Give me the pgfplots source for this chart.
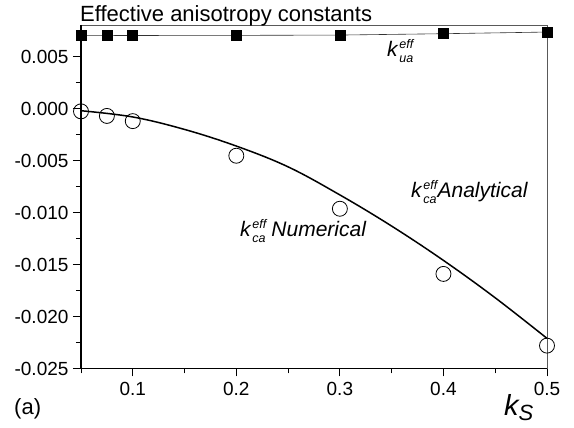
\documentclass[border=0pt]{standalone}
\usepackage{fontspec}
\setmainfont{Liberation Sans}
\usepackage{pgfplots}
\pgfplotsset{compat=1.18}
\newcommand\keff[1]{\textit{k}\kern0.8pt\rlap{\raisebox{8pt}{\fontsize{12.5}{13}\selectfont\itshape eff}}\raisebox{-5.5pt}{\fontsize{12.5}{13}\selectfont\itshape #1}}
\begin{document}
\begin{tikzpicture}[x=1pt,y=1pt]
\useasboundingbox (0,0) rectangle (574,428);
\begin{axis}[
  at={(81pt,59.5pt)}, anchor=south west,
  scale only axis, width=466pt, height=343pt,
  xmin=0.05, xmax=0.5, ymin=-0.025, ymax=0.008,
  scaled ticks=false,
  xtick={0.1,0.2,0.3,0.4,0.5}, xticklabels={0.1,0.2,0.3,0.4,0.5},
  minor xtick={0.05,0.15,0.25,0.35,0.45},
  ytick={-0.025,-0.020,-0.015,-0.010,-0.005,0,0.005},
  yticklabels={-0.025,-0.020,-0.015,-0.010,-0.005,0.000,0.005},
  minor ytick={-0.0225,-0.0175,-0.0125,-0.0075,-0.0025,0.0025,0.0075},
  tick align=outside, tick pos=left,
  major tick length=8pt, minor tick length=5pt,
  tick style={black, line width=0.9pt},
  ticklabel style={font=\fontsize{19}{22}\selectfont},
  yticklabel style={xshift=-1pt},
  xticklabel style={yshift=-2pt},
  axis line style={black!65, line width=0.7pt},
]
\addplot[black!80, line width=0.6pt, mark=square*, mark size=5pt, mark options={solid, fill=black, draw=black}]
 coordinates {(0.05,0.00703) (0.075,0.00703) (0.1,0.00704) (0.2,0.00705) (0.3,0.00708) (0.4,0.00721) (0.5,0.00737)};
\addplot[black, line width=1.5pt, smooth, tension=0.6, no marks]
 coordinates {(0.05,-0.0002) (0.1,-0.0008) (0.15,-0.0020) (0.2,-0.0036) (0.25,-0.0056) (0.3,-0.0083) (0.35,-0.0113) (0.4,-0.0146) (0.45,-0.0182) (0.5,-0.0221)};
\addplot[only marks, mark=o, mark size=7.5pt, mark options={line width=0.8pt, draw=black}]
 coordinates {(0.05,-0.00026) (0.075,-0.0007) (0.1,-0.0012) (0.2,-0.00453) (0.3,-0.00963) (0.4,-0.0159) (0.5,-0.0228)};
\end{axis}
\draw[black, line width=1.2pt] (81,403) -- (81,59.5) -- (547,59.5);
\node[anchor=base west, inner sep=0, font=\fontsize{22}{25}\selectfont] at (80,406.3) {Effective anisotropy constants};
\node[anchor=base west, inner sep=0, font=\fontsize{22}{25}\selectfont] at (14,13) {(a)};
\node[anchor=base west, inner sep=0] at (504,12) {\fontsize{29}{32}\selectfont\itshape k\raisebox{-5pt}{\fontsize{22}{24}\selectfont S}};
\node[anchor=base west, inner sep=0, font=\fontsize{21}{24}\selectfont] at (387,371) {\keff{ua}};
\node[anchor=base west, inner sep=0, font=\fontsize{21}{24}\selectfont] at (240,191) {\keff{ca} \textit{Numerical}};
\node[anchor=base west, inner sep=0, font=\fontsize{21}{24}\selectfont] at (411,230) {\keff{ca}\kern1pt\textit{Analytical}};
\end{tikzpicture}
\end{document}
